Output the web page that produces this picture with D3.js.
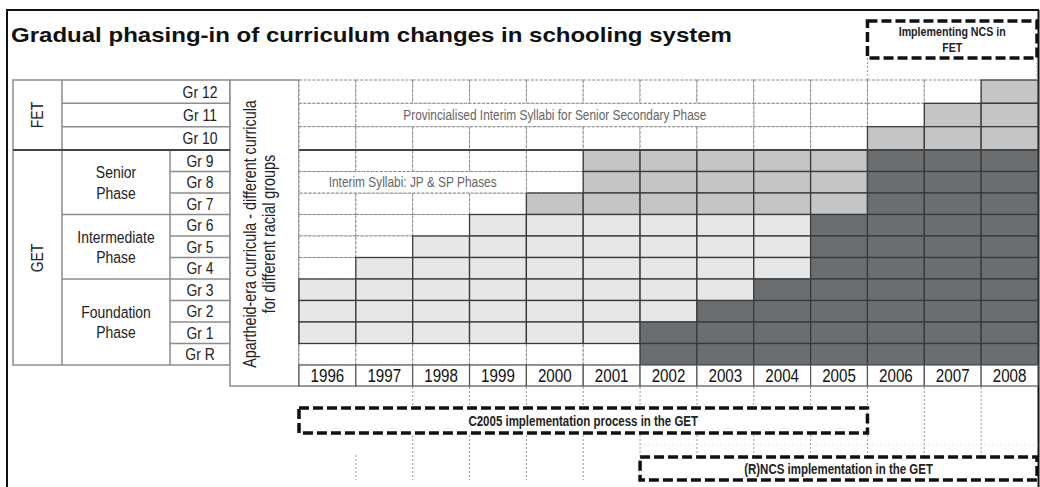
<!DOCTYPE html>
<html>
<head>
<meta charset="utf-8">
<script src="https://cdn.jsdelivr.net/npm/d3@7"></script>
<style>
  body { margin: 0; background: #fff; }
  svg { display: block; }
  text { font-family: 'Liberation Sans', Arial, sans-serif; }
</style>
</head>
<body>
<div id="chart"></div>
<script>
// Categories
const years = [1996, 1997, 1998, 1999, 2000, 2001, 2002, 2003, 2004, 2005, 2006, 2007, 2008];
const fetGrades = ['Gr 12', 'Gr 11', 'Gr 10'];
const getGrades = ['Gr 9', 'Gr 8', 'Gr 7', 'Gr 6', 'Gr 5', 'Gr 4', 'Gr 3', 'Gr 2', 'Gr 1', 'Gr R'];
const grades = fetGrades.concat(getGrades);
const phaseNames = [['Senior', 'Phase'], ['Intermediate', 'Phase'], ['Foundation', 'Phase']];
const phaseGrades = [['Gr 9', 'Gr 8', 'Gr 7'], ['Gr 6', 'Gr 5', 'Gr 4'], ['Gr 3', 'Gr 2', 'Gr 1', 'Gr R']];

// First year of each curriculum, per grade (same order as grades)
const c2005Start = [null, null, null, 2001, 2001, 2000, 1999, 1998, 1997, 1996, 1996, 1996, null];
const ncsStart = [2008, 2007, 2006, 2006, 2006, 2006, 2005, 2005, 2005, 2004, 2003, 2002, 2002];

// Merged white cells with notes
const noteGrades = ['Gr 11', 'Gr 8'];
const noteFrom = [1997, 1996];
const noteTo = [2003, 1999];
const noteText = ['Provincialised Interim Syllabi for Senior Secondary Phase', 'Interim Syllabi: JP & SP Phases'];

// Implementation spans (dashed boxes)
const spanLabels = ['C2005 implementation process in the GET', '(R)NCS implementation in the GET'];
const spanFrom = [1996, 2002];
const spanTo = [2005, 2008];
const fetSpanLabel = ['Implementing NCS in', 'FET'];
const fetSpanFrom = 2006;
const fetSpanTo = 2008;

const title = 'Gradual phasing-in of curriculum changes in schooling system';
const sideLabel = ['Apartheid-era curricula - different curricula', 'for different racial groups'];

const colors = { white: '#ffffff', light: '#e7e7e7', medium: '#c5c5c5', dark: '#6b6e70' };
const NARROW = 0.82; // no narrow face installed, squeeze Liberation Sans instead

const width = 1040, height = 487;
const svg = d3.select('#chart').append('svg')
  .attr('width', width)
  .attr('height', height);

svg.append('rect').attr('width', width).attr('height', height).attr('fill', '#fff');

// Scales
const x = d3.scaleBand().domain(years).range([299, 1038]);
const yFet = d3.scaleBand().domain(fetGrades).range([80, 150]);
const yGet = d3.scaleBand().domain(getGrades).range([150, 365]);
const yOf = g => fetGrades.includes(g) ? yFet(g) : yGet(g);
const hOf = g => fetGrades.includes(g) ? yFet.bandwidth() : yGet.bandwidth();
const xEnd = yr => x(yr) + x.bandwidth();

function shadeOf(grade, year) {
  const i = grades.indexOf(grade);
  const fet = fetGrades.includes(grade);
  const senior = phaseGrades[0].includes(grade);
  if (ncsStart[i] != null && year >= ncsStart[i]) return fet ? 'medium' : 'dark';
  if (c2005Start[i] != null && year >= c2005Start[i]) return senior ? 'medium' : 'light';
  return 'white';
}

function inNote(grade, year) {
  return noteGrades.some((g, i) => g === grade && year >= noteFrom[i] && year <= noteTo[i]);
}

// narrow multi-line text helper
function addText(parent, x0, y0, lines, opts) {
  const t = parent.append('text')
    .attr('transform', `translate(${x0},${y0})${opts.rotate ? ' rotate(-90)' : ''} scale(${NARROW},1)`)
    .attr('text-anchor', 'middle')
    .attr('font-size', opts.size)
    .attr('font-weight', opts.weight || 'normal')
    .attr('fill', opts.fill || '#222');
  t.selectAll('tspan')
    .data(lines)
    .enter()
    .append('tspan')
    .attr('x', 0)
    .attr('y', (d, i) => i * (opts.gap || 0))
    .text(d => d);
  return t;
}

// Outer frame
const frame = svg.append('g').attr('stroke', '#111').attr('stroke-width', 2);
frame.append('line').attr('x1', 7).attr('y1', 10).attr('x2', 7).attr('y2', height);
frame.append('line').attr('x1', 6).attr('y1', 10).attr('x2', 1039).attr('y2', 10);
frame.append('line').attr('x1', 1038.5).attr('y1', 10).attr('x2', 1038.5).attr('y2', height);

// Title
svg.append('text')
  .attr('x', 11)
  .attr('y', 42)
  .attr('font-weight', 'bold')
  .attr('font-size', 21)
  .attr('textLength', 721)
  .attr('lengthAdjust', 'spacingAndGlyphs')
  .attr('fill', '#111')
  .text(title);

// Left table
const left = svg.append('g');
const tableLine = '#8c8c8c';
left.append('rect')
  .attr('x', 13).attr('y', 80).attr('width', 217).attr('height', 285)
  .attr('fill', '#fff').attr('stroke', tableLine).attr('stroke-width', 1.5);
left.append('line').attr('x1', 62).attr('x2', 62).attr('y1', 80).attr('y2', 365)
  .attr('stroke', tableLine).attr('stroke-width', 1.5);
left.append('line').attr('x1', 170).attr('x2', 170).attr('y1', 150).attr('y2', 365)
  .attr('stroke', tableLine).attr('stroke-width', 1.5);

// grade row dividers
grades.forEach(g => {
  if (g === 'Gr 12' || g === 'Gr 9') return;
  const fet = fetGrades.includes(g);
  const phaseStart = phaseGrades.some(p => p[0] === g);
  left.append('line')
    .attr('x1', fet || phaseStart ? 62 : 170).attr('x2', 230)
    .attr('y1', yOf(g)).attr('y2', yOf(g))
    .attr('stroke', tableLine).attr('stroke-width', 1.5);
});

left.selectAll('.grade-label')
  .data(grades)
  .enter()
  .append('text')
  .attr('class', 'grade-label')
  .attr('transform', g => `translate(200, ${yOf(g) + hOf(g) / 2 + 6}) scale(${NARROW},1)`)
  .attr('text-anchor', 'middle')
  .attr('font-size', 17)
  .attr('fill', '#222')
  .text(g => g);

phaseGrades.forEach((p, i) => {
  const top = yGet(p[0]);
  const bottom = yGet(p[p.length - 1]) + yGet.bandwidth();
  const mid = (top + bottom) / 2;
  addText(left, 116, mid - 4, phaseNames[i], { size: 17, gap: 20.5 });
});

addText(left, 43, 115, ['FET'], { size: 17, rotate: true });
addText(left, 43, 258, ['GET'], { size: 17, rotate: true });

// Apartheid-era column
svg.append('rect')
  .attr('x', 230).attr('y', 80).attr('width', 69).attr('height', 306)
  .attr('fill', '#fff').attr('stroke', tableLine).attr('stroke-width', 1.5);
addText(svg, 256, 234, sideLabel, { size: 17.5, rotate: true, gap: 19 });

// Grid cells
const cells = [];
grades.forEach(g => years.forEach(yr => {
  if (inNote(g, yr)) return;
  cells.push({ grade: g, year: yr, shade: shadeOf(g, yr) });
}));
cells.sort((a, b) => (a.shade === 'white' ? 0 : 1) - (b.shade === 'white' ? 0 : 1));

const grid = svg.append('g');
grid.selectAll('.cell')
  .data(cells)
  .enter()
  .append('rect')
  .attr('class', 'cell')
  .attr('x', d => x(d.year))
  .attr('y', d => yOf(d.grade))
  .attr('width', x.bandwidth())
  .attr('height', d => hOf(d.grade))
  .attr('fill', d => colors[d.shade])
  .attr('stroke', d => d.shade === 'white' ? '#8a8a8a' : '#3a3a3a')
  .attr('stroke-width', d => d.shade === 'white' ? 1 : 1.3)
  .attr('stroke-dasharray', d => d.shade === 'white' ? '3,1.5' : null);

// merged note cells
noteGrades.forEach((g, i) => {
  const x0 = x(noteFrom[i]), x1 = xEnd(noteTo[i]);
  grid.append('rect')
    .attr('x', x0).attr('y', yOf(g))
    .attr('width', x1 - x0).attr('height', hOf(g))
    .attr('fill', '#fff').attr('stroke', '#8a8a8a').attr('stroke-dasharray', '3,1.5');
  addText(grid, (x0 + x1) / 2, yOf(g) + hOf(g) / 2 + 5, [noteText[i]], { size: 14.5, fill: '#666' });
});

// FET / GET divider
[[13, 230], [299, 1038]].forEach(([a, b]) => {
  svg.append('line')
    .attr('x1', a).attr('x2', b).attr('y1', 150).attr('y2', 150)
    .attr('stroke', '#444').attr('stroke-width', 2.2);
});

// Year row
const yearRow = svg.append('g');
yearRow.selectAll('rect')
  .data(years)
  .enter()
  .append('rect')
  .attr('x', d => x(d))
  .attr('y', 365)
  .attr('width', x.bandwidth())
  .attr('height', 21)
  .attr('fill', '#fff')
  .attr('stroke', '#555')
  .attr('stroke-width', 1.2);
yearRow.selectAll('text')
  .data(years)
  .enter()
  .append('text')
  .attr('transform', d => `translate(${x(d) + x.bandwidth() / 2}, 382) scale(${NARROW},1)`)
  .attr('text-anchor', 'middle')
  .attr('font-size', 18.5)
  .attr('fill', '#111')
  .text(d => d);

// Dotted guide lines below and above the grid
const guides = svg.append('g')
  .attr('stroke', '#9a9a9a')
  .attr('stroke-width', 1)
  .attr('stroke-dasharray', '2,2');
years.slice(1).forEach(yr => {
  guides.append('line')
    .attr('x1', x(yr)).attr('x2', x(yr))
    .attr('y1', yr === 1997 ? 455 : 387).attr('y2', 480);
});
guides.append('line')
  .attr('x1', x(fetSpanFrom)).attr('x2', x(fetSpanFrom)).attr('y1', 58).attr('y2', 80);
guides.append('line')
  .attr('x1', xEnd(fetSpanTo) - 1).attr('x2', xEnd(fetSpanTo) - 1).attr('y1', 58).attr('y2', 80);
guides.append('line')
  .attr('x1', x(spanFrom[1])).attr('x2', xEnd(spanTo[1])).attr('y1', 445).attr('y2', 445)
  .attr('stroke', '#e2e2e2');

// Dashed implementation boxes
function dashedBox(x0, x1, y0, y1, lines, fontSize, lineGap) {
  svg.append('rect')
    .attr('x', x0).attr('y', y0)
    .attr('width', x1 - x0).attr('height', y1 - y0)
    .attr('fill', '#fff')
    .attr('stroke', '#111')
    .attr('stroke-width', 3.5)
    .attr('stroke-dasharray', '10,4');
  const mid = (y0 + y1) / 2;
  const first = mid + fontSize * 0.36 - (lines.length - 1) * lineGap / 2;
  addText(svg, (x0 + x1) / 2, first, lines, { size: fontSize, weight: 'bold', gap: lineGap });
}

dashedBox(x(fetSpanFrom), xEnd(fetSpanTo) - 1, 21, 58, fetSpanLabel, 13, 15.5);
dashedBox(x(spanFrom[0]), xEnd(spanTo[0]), 408, 433, [spanLabels[0]], 14, 14);
dashedBox(x(spanFrom[1]), xEnd(spanTo[1]) - 1, 457, 480, [spanLabels[1]], 14, 14);
</script>
</body>
</html>
